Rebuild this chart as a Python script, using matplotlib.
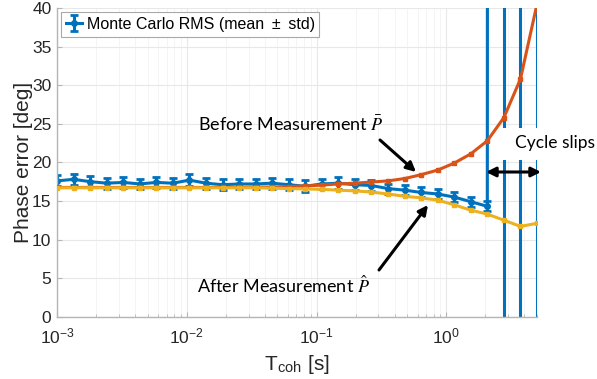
import numpy as np
import matplotlib
matplotlib.use("Agg")
import matplotlib.pyplot as plt
from matplotlib.patches import Rectangle
from matplotlib.ticker import LogLocator, NullFormatter

plt.rcParams['font.family'] = ['Liberation Sans', 'DejaVu Sans']
plt.rcParams['mathtext.fontset'] = 'stix'

# ---------------- data ----------------
t_coh = np.logspace(-3, np.log10(5), 30)   # coherent integration time [s]

before_P = [16.75, 16.75, 16.75, 16.75, 16.75, 16.75, 16.75, 16.75, 16.75, 16.75,
            16.75, 16.75, 16.8, 16.8, 16.85, 16.95, 17.05, 17.2, 17.3, 17.45,
            17.6, 17.9, 18.4, 19.0, 19.9, 21.1, 22.8, 25.8, 30.8, 40.5]

after_P = [16.7, 16.7, 16.7, 16.7, 16.7, 16.7, 16.7, 16.7, 16.7, 16.7,
           16.7, 16.7, 16.7, 16.65, 16.6, 16.55, 16.5, 16.4, 16.3, 16.15,
           15.9, 15.6, 15.4, 15.1, 14.5, 13.8, 13.3, 12.5, 11.7, 12.1]

# Monte Carlo RMS: last three points are off-scale (cycle slips)
mc_mean = [17.6, 17.8, 17.5, 17.3, 17.4, 17.2, 17.4, 17.3, 17.7, 17.3,
           17.1, 17.2, 17.2, 17.3, 17.1, 16.9, 17.2, 17.3, 17.1, 17.0,
           16.6, 16.4, 16.1, 15.9, 15.5, 14.9, 14.3, 5000.0, 5000.0, 5000.0]
mc_std = [0.7, 0.75, 0.7, 0.7, 0.7, 0.7, 0.75, 0.7, 0.75, 0.7,
          0.7, 0.7, 0.7, 0.7, 0.7, 0.75, 0.7, 0.75, 0.7, 0.7,
          0.65, 0.65, 0.65, 0.65, 0.65, 0.65, 0.65, 6000.0, 6000.0, 6000.0]

yticks = [0, 5, 10, 15, 20, 25, 30, 35, 40]
legend_label = "Monte Carlo RMS (mean \u2009\u00b1\u2009 std)"

C_BLUE = '#0072BD'
C_ORANGE = '#D95319'
C_YELLOW = '#EDB120'

W, H = 597, 379
fig = plt.figure(figsize=(W / 100, H / 100), dpi=100)
ax = fig.add_axes([57 / W, 1 - 316.7 / H, 480 / W, 308.7 / H])

eb = ax.errorbar(t_coh, mc_mean, yerr=mc_std, color=C_BLUE, lw=2.2,
                 elinewidth=2.2, capsize=3, capthick=2, marker='o', ms=4,
                 zorder=2, label=legend_label)
ax.plot(t_coh, before_P, color=C_ORANGE, lw=2.2, marker='s', ms=3, zorder=3)
ax.plot(t_coh, after_P, color=C_YELLOW, lw=2.2, marker='s', ms=3, zorder=4)

ax.set_xscale('log')
ax.set_xlim(1e-3, 5)
ax.set_ylim(0, 40)
ax.set_yticks(yticks)
ax.xaxis.set_major_locator(LogLocator(base=10, numticks=10))
ax.xaxis.set_minor_locator(LogLocator(base=10, subs=np.arange(2, 10), numticks=20))
ax.xaxis.set_minor_formatter(NullFormatter())

for s in ['top', 'right']:
    ax.spines[s].set_visible(False)
for s in ['left', 'bottom']:
    ax.spines[s].set_color('#b5b5b5')
    ax.spines[s].set_linewidth(1.0)

ax.tick_params(axis='both', which='major', direction='in', length=3.5,
               color='#b5b5b5', labelsize=12.5, labelcolor='#262626')
ax.tick_params(axis='y', which='major', pad=4)
ax.tick_params(axis='x', which='major', pad=7)
ax.tick_params(axis='x', which='minor', direction='in', length=2,
               color='#b5b5b5')
ax.tick_params(axis='y', which='minor', left=False)

ax.grid(True, which='major', color='#e8e8e8', lw=0.8, zorder=0)
ax.grid(True, which='minor', axis='x', color='#f3f3f3', lw=0.6, zorder=0)
ax.set_axisbelow(True)

ax.set_ylabel('Phase error [deg]', fontsize=15, color='#262626', labelpad=-1)
ax.set_xlabel(r'T$_{\mathdefault{coh}}$ [s]', fontsize=15, color='#262626', labelpad=5)

leg = ax.legend(handles=[eb], labels=[legend_label], loc='upper left',
                bbox_to_anchor=(4 / 480, 1 - 4 / 308.7), borderaxespad=0,
                fontsize=11.5, frameon=True, fancybox=False, framealpha=1,
                edgecolor='#a8a8a8', handlelength=1.0, handletextpad=0.3,
                borderpad=0.3)
leg.get_frame().set_linewidth(0.8)

# ---------------- annotations ----------------
def fpx(x, y):
    return (x / W, 1 - y / H)

ann_font = dict(family=['Lato', 'DejaVu Sans'], fontsize=13, color='black')

fig.text(*fpx(198, 124), r'Before Measurement $\bar{P}$', ha='left', va='center', **ann_font)
fig.text(*fpx(197, 285), r'After Measurement $\hat{P}$', ha='left', va='center', **ann_font)

fig.add_artist(Rectangle(fpx(500, 160), 97 / W, 32 / H, transform=fig.transFigure,
                         facecolor='white', edgecolor='none'))
fig.text(*fpx(595, 143), 'Cycle slips', ha='right', va='center',
         family=['Lato', 'DejaVu Sans'], fontsize=12.5, color='black')

arrow_kw = dict(arrowstyle='-|>', lw=2.2, color='black', mutation_scale=14,
                shrinkA=0, shrinkB=0)
ax.annotate('', xy=fpx(416, 172), xytext=fpx(380, 140),
            xycoords='figure fraction', textcoords='figure fraction',
            arrowprops=arrow_kw, annotation_clip=False)
ax.annotate('', xy=fpx(428, 205), xytext=fpx(379, 270),
            xycoords='figure fraction', textcoords='figure fraction',
            arrowprops=arrow_kw, annotation_clip=False)
ax.annotate('', xy=fpx(541, 172), xytext=fpx(486, 172),
            xycoords='figure fraction', textcoords='figure fraction',
            arrowprops=dict(arrowstyle='<|-|>', lw=2.2, color='black',
                            mutation_scale=14, shrinkA=0, shrinkB=0),
            annotation_clip=False)

fig.savefig('out.png', dpi=100)
